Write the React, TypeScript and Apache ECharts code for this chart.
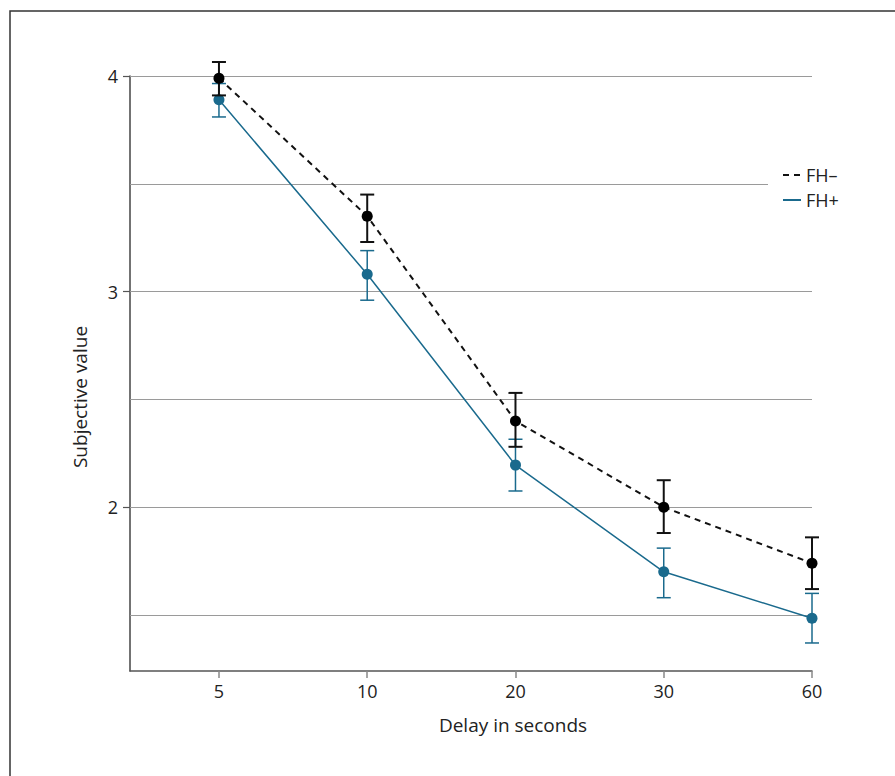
import React, { useEffect, useRef } from "react";
import * as echarts from "echarts";

const categories = ["5", "10", "20", "30", "60"];
const xPositions = [0, 1, 2, 3, 4];
const fhMinusMean = [3.99, 3.35, 2.4, 2.0, 1.74];
const fhMinusLow = [3.91, 3.23, 2.28, 1.88, 1.62];
const fhMinusHigh = [4.065, 3.45, 2.53, 2.125, 1.86];
const fhPlusMean = [3.89, 3.08, 2.195, 1.7, 1.485];
const fhPlusLow = [3.81, 2.96, 2.075, 1.58, 1.37];
const fhPlusHigh = [3.965, 3.19, 2.315, 1.81, 1.6];
const gridValues = [1.5, 2, 2.5, 3, 3.5, 4];
const yLabelValues = [2, 3, 4];

const BLUE = "#1a6a8d";
const FONT = "Open Sans";

function errorSeries(name: string, low: number[], high: number[], color: string, width: number, z: number) {
  return {
    type: "custom",
    name: name + " err",
    z,
    silent: true,
    data: xPositions.map((x, i) => [x, low[i], high[i]]),
    encode: { x: 0, y: [1, 2] },
    renderItem: (_params: any, api: any) => {
      const x = api.value(0);
      const lo = api.coord([x, api.value(1)]);
      const hi = api.coord([x, api.value(2)]);
      const hw = 7;
      const style = { stroke: color, lineWidth: width };
      return {
        type: "group",
        children: [
          { type: "line", shape: { x1: lo[0], y1: lo[1], x2: hi[0], y2: hi[1] }, style },
          { type: "line", shape: { x1: lo[0] - hw, y1: lo[1], x2: lo[0] + hw, y2: lo[1] }, style },
          { type: "line", shape: { x1: hi[0] - hw, y1: hi[1], x2: hi[0] + hw, y2: hi[1] }, style },
        ],
      };
    },
  };
}

export default function App() {
  const ref = useRef<HTMLDivElement>(null);
  useEffect(() => {
    if (!ref.current) return;
    const chart = echarts.init(ref.current, null, { renderer: "svg" });
    chart.setOption({
      animation: false,
      backgroundColor: "#ffffff",
      textStyle: { fontFamily: FONT },
      grid: { left: 130, top: 76, right: 83, bottom: 105, containLabel: false },
      xAxis: {
        type: "value",
        min: -0.6,
        max: 4,
        axisLine: { show: true, onZero: false, lineStyle: { color: "#555", width: 1.5 } },
        axisTick: { show: true, customValues: xPositions, length: 7, lineStyle: { color: "#888", width: 1.5 } },
        axisLabel: {
          customValues: xPositions,
          formatter: (v: number) => categories[Math.round(v)] ?? "",
          color: "#222",
          fontSize: 18,
          fontFamily: FONT,
          margin: 11,
        },
        splitLine: { show: false },
      },
      yAxis: {
        type: "value",
        min: 1.24,
        max: 4,
        axisLine: { show: true, onZero: false, lineStyle: { color: "#444", width: 1.5 } },
        axisTick: { show: true, customValues: yLabelValues, length: 7, lineStyle: { color: "#555", width: 1.2 } },
        axisLabel: {
          customValues: yLabelValues,
          color: "#222",
          fontSize: 18,
          fontFamily: FONT,
          margin: 12,
        },
        splitLine: { show: false },
      },
      legend: {
        orient: "vertical",
        left: 768,
        top: 162,
        padding: [4, 6, 4, 14],
        backgroundColor: "#ffffff",
        itemWidth: 18,
        itemHeight: 14,
        itemGap: 7,
        itemStyle: { opacity: 0 },
        textStyle: { fontSize: 18, lineHeight: 14, color: "#222", fontFamily: FONT },
        data: ["FH–", "FH+"],
        z: 10,
      },
      graphic: [
        {
          type: "rect",
          shape: { x: 10, y: 11, width: 1000, height: 1000 },
          style: { fill: "none", stroke: "#333", lineWidth: 1.5 },
          silent: true,
          z: 0,
        },
        {
          type: "text",
          x: 513,
          y: 725,
          style: {
            text: "Delay in seconds",
            fontSize: 19,
            fontFamily: FONT,
            fill: "#222",
            align: "center",
            verticalAlign: "middle",
          },
        },
        {
          type: "text",
          x: 80,
          y: 397,
          rotation: Math.PI / 2,
          style: {
            text: "Subjective value",
            fontSize: 19,
            fontFamily: FONT,
            fill: "#222",
            align: "center",
            verticalAlign: "middle",
          },
        },
      ],
      series: [
        {
          type: "line",
          name: "grid",
          data: [],
          z: 1,
          silent: true,
          markLine: {
            silent: true,
            symbol: "none",
            z: 1,
            label: { show: false },
            lineStyle: { color: "#9a9a9a", width: 1, type: "solid" },
            data: gridValues.map((v) => ({ yAxis: v })),
          },
        },
        errorSeries("FH+", fhPlusLow, fhPlusHigh, BLUE, 1.5, 3),
        {
          type: "line",
          name: "FH+",
          z: 4,
          data: xPositions.map((x, i) => [x, fhPlusMean[i]]),
          symbol: "circle",
          symbolSize: 11,
          itemStyle: { color: BLUE },
          lineStyle: { color: BLUE, width: 1.5 },
        },
        errorSeries("FH–", fhMinusLow, fhMinusHigh, "#111", 2, 5),
        {
          type: "line",
          name: "FH–",
          z: 6,
          data: xPositions.map((x, i) => [x, fhMinusMean[i]]),
          symbol: "circle",
          symbolSize: 11,
          itemStyle: { color: "#000" },
          lineStyle: { color: "#111", width: 2, type: [6, 5] },
        },
      ],
    });
    return () => chart.dispose();
  }, []);
  return <div ref={ref} style={{ position: "fixed", left: 0, top: 0, width: 895, height: 776 }} />;
}
